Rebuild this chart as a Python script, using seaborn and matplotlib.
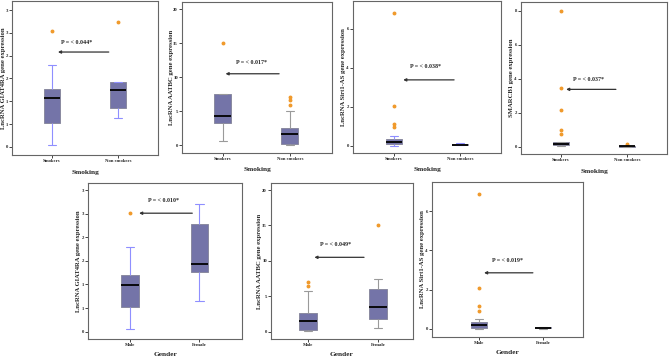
import pandas as pd
import matplotlib
matplotlib.use('Agg')
import matplotlib.pyplot as plt
import seaborn as sns

sns.set_style('white')
plt.rcParams['font.family'] = ['Liberation Serif', 'DejaVu Serif']

# categories
smoking_groups = ['Smokers', 'Non smokers']
gender_groups = ['Male', 'Female']

# values (quartiles, whiskers, outliers)
giat4ra_smokers = [0.05, 0.30, 0.53, 0.80, 1.08, 1.18, 1.26, 1.79, 2.55]
giat4ra_nonsmokers = [0.64, 0.75, 0.86, 1.05, 1.24, 1.35, 1.43, 1.43, 2.73]
aatbc_smokers = [0.54, 2.0, 3.3, 3.8, 4.23, 6.0, 7.45, 7.45, 15.0]
aatbc_nonsmokers = [0.0, 0.05, 0.1, 0.15, 0.2, 0.5, 0.9, 1.3, 1.6, 1.8, 2.0, 2.2, 2.45,
                    5.0, 5.9, 6.6, 7.1]
sirt1_smokers = [0.0, 0.02, 0.03, 0.05, 0.06, 0.07, 0.1, 0.12, 0.15, 0.17, 0.19, 0.22,
                 0.26, 0.3, 0.33, 0.36, 0.51, 0.94, 1.12, 2.05, 6.78]
sirt1_nonsmokers = [0.02, 0.04, 0.06, 0.08, 0.12]
smarcb1_smokers = [0.03, 0.04, 0.05, 0.06, 0.07, 0.08, 0.1, 0.11, 0.13, 0.14, 0.15, 0.18,
                   0.2, 0.23, 0.26, 0.28, 0.72, 1.01, 2.15, 3.45, 8.0]
smarcb1_nonsmokers = [0.0, 0.005, 0.01, 0.02, 0.03, 0.04, 0.05, 0.06, 0.14]
giat4ra_male = [0.06, 0.3, 0.52, 0.8, 0.99, 1.1, 1.21, 1.79, 2.52]
giat4ra_female = [0.645, 1.255, 1.44, 2.29, 2.71]
aatbc_male = [0.05, 0.1, 0.18, 0.24, 0.6, 1.1, 1.51, 1.9, 2.3, 2.65, 5.72, 6.48, 7.05]
aatbc_female = [0.47, 1.2, 1.8, 2.7, 3.55, 4.8, 6.05, 7.42, 15.0]
sirt1_male = [0.0, 0.01, 0.015, 0.02, 0.025, 0.03, 0.06, 0.09, 0.12, 0.15, 0.17, 0.21,
              0.25, 0.3, 0.34, 0.37, 0.49, 0.93, 1.14, 2.06, 6.89]
sirt1_female = [0.01, 0.03, 0.05, 0.07, 0.09]

# tick labels
giat4ra_ticks = [0, 0.5, 1.0, 1.5, 2.0, 2.5, 3.0]
giat4ra_ticklabels = ['0', '1', '1', '2', '2', '3', '3']
aatbc_ticks = [0, 5, 10, 15, 20]
sirt1_ticks = [0, 2, 4, 6]
smarcb1_ticks = [0, 2, 4, 6, 8]

p_values = ['P = < 0.044*', 'P = < 0.017*', 'P = < 0.038*', 'P = < 0.037*',
            'P = < 0.010*', 'P = < 0.049*', 'P = < 0.019*']

box_fill = '#7474a8'
flier_color = '#f09a2c'
blue_whisker = '#8f8fff'
grey_whisker = '#9a9a9a'

W, H = 669, 358
fig = plt.figure(figsize=(W / 100, H / 100), dpi=100)


def draw_panel(px, groups, a, b, ylabel, xlabel, yticks, yticklabels, ylim, xlim,
               ptext, text_pos, arrow, wcolor, ylab_off, xlab_off=17):
    x0, y0, x1, y1 = px
    w, h = x1 - x0, y1 - y0
    ax = fig.add_axes([x0 / W, 1 - y1 / H, w / W, h / H])
    df = pd.DataFrame({'group': [groups[0]] * len(a) + [groups[1]] * len(b),
                       'value': a + b})
    sns.boxplot(data=df, x='group', y='value', order=groups, ax=ax, width=0.25,
                color=box_fill, saturation=1, linecolor='#8a8aa0', linewidth=0.7,
                fliersize=1.8,
                flierprops=dict(marker='o', markerfacecolor=flier_color,
                                markeredgecolor=flier_color),
                medianprops=dict(color='black', linewidth=1.3),
                whiskerprops=dict(color=wcolor, linewidth=0.8),
                capprops=dict(color=wcolor, linewidth=0.8))
    ax.set_xlim(*xlim)
    ax.set_ylim(*ylim)
    ax.set_yticks(yticks)
    ax.set_yticklabels(yticklabels if yticklabels else [str(t) for t in yticks])
    ax.set_xlabel(xlabel, fontsize=5.3, fontweight='bold', va='center')
    ax.set_ylabel(ylabel, fontsize=4.8, fontweight='bold', va='center')
    ax.xaxis.set_label_coords(0.5, -xlab_off / h)
    ax.yaxis.set_label_coords(-ylab_off / w, 0.5)
    ax.tick_params(axis='both', length=2, width=0.6, labelsize=3.4, pad=1,
                   direction='out', left=True, bottom=True)
    for lab in ax.get_xticklabels() + ax.get_yticklabels():
        lab.set_fontweight('bold')
    for s in ax.spines.values():
        s.set_color('#666666')
        s.set_linewidth(0.8)
    ax.text(text_pos[0], text_pos[1], ptext, ha='center', va='center',
            fontsize=4.3, fontweight='bold')
    ax.annotate('', xy=(arrow[1], arrow[2]), xytext=(arrow[0], arrow[2]),
                arrowprops=dict(arrowstyle='-|>', color='#333333', lw=0.9,
                                mutation_scale=4, shrinkA=0, shrinkB=0))
    return ax


draw_panel((12, 1, 158, 155), smoking_groups, giat4ra_smokers, giat4ra_nonsmokers,
           'LncRNA GIAT4RA gene expression', 'Smoking', giat4ra_ticks, giat4ra_ticklabels,
           (-0.18, 3.2), (-0.606, 1.606), p_values[0], (0.38, 2.30), (0.86, 0.09, 2.08),
           blue_whisker, 8.5)
draw_panel((182, 2, 332, 153), smoking_groups, aatbc_smokers, aatbc_nonsmokers,
           'LncRNA AATBC gene expression', 'Smoking', aatbc_ticks, None,
           (-1.17, 21.07), (-0.61, 1.63), p_values[1], (0.43, 12.1), (0.84, 0.04, 10.5),
           grey_whisker, 11)
draw_panel((353, 1, 501, 153), smoking_groups, sirt1_smokers, sirt1_nonsmokers,
           'LncRNA Sirt1-AS gene expression', 'Smoking', sirt1_ticks, None,
           (-0.375, 7.41), (-0.62, 1.62), p_values[2], (0.47, 4.04), (0.91, 0.14, 3.37),
           blue_whisker, 9.5)
draw_panel((521, 2, 667, 154), smoking_groups, smarcb1_smokers, smarcb1_nonsmokers,
           'SMARCB1 gene expression', 'Smoking', smarcb1_ticks, None,
           (-0.43, 8.53), (-0.6, 1.6), p_values[3], (0.42, 3.96), (0.83, 0.08, 3.38),
           grey_whisker, 9.5)
draw_panel((88, 183, 242, 339), gender_groups, giat4ra_male, giat4ra_female,
           'LncRNA GIAT4RA gene expression', 'Gender', giat4ra_ticks, giat4ra_ticklabels,
           (-0.156, 3.15), (-0.61, 1.62), p_values[4], (0.48, 2.77), (0.9, 0.13, 2.51),
           blue_whisker, 9.5, 15)
draw_panel((271, 183, 413, 339), gender_groups, aatbc_male, aatbc_female,
           'LncRNA AATBC gene expression', 'Gender', aatbc_ticks, None,
           (-1.04, 21.0), (-0.53, 1.5), p_values[5], (0.4, 12.3), (0.8, 0.09, 10.5),
           grey_whisker, 11, 15)
draw_panel((432, 182, 583, 337), gender_groups, sirt1_male, sirt1_female,
           'LncRNA Sirt1-AS gene expression', 'Gender', sirt1_ticks, None,
           (-0.42, 7.5), (-0.73, 1.62), p_values[6], (0.45, 3.47), (0.84, 0.08, 2.86),
           grey_whisker, 9.5, 15)

fig.savefig('out.png', dpi=100)
